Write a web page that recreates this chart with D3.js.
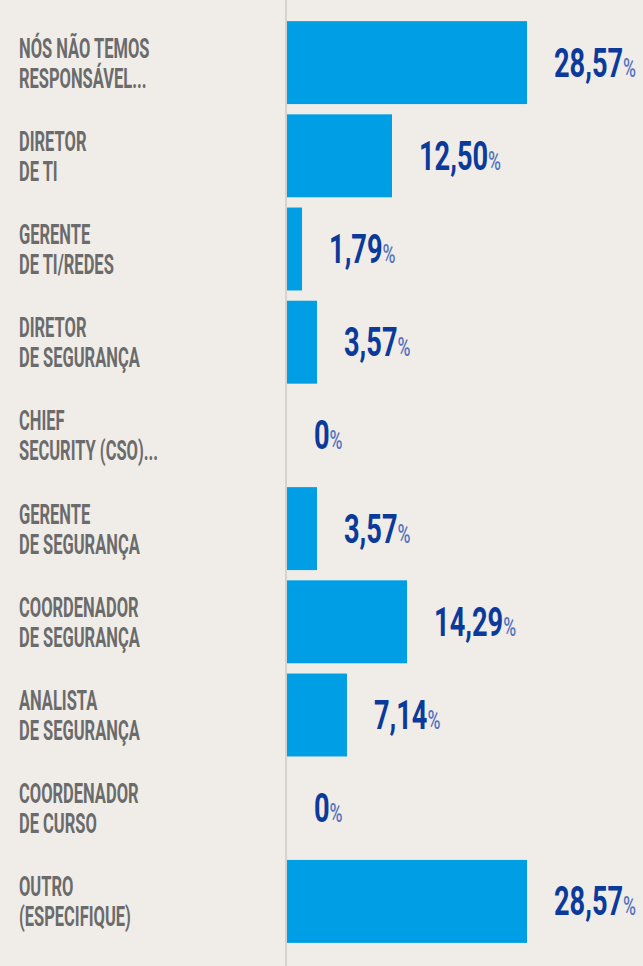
<!DOCTYPE html>
<html>
<head>
<meta charset="utf-8">
<script src="https://cdn.jsdelivr.net/npm/d3@7"></script>
<style>
  html, body { margin: 0; padding: 0; background: #f0ede9; }
  svg { display: block; }
</style>
</head>
<body>
<figure id="bar" style="margin:0"></figure>
<script>
// categories (line breaks marked with |)
const categories = [
  "NÓS NÃO TEMOS|RESPONSÁVEL...",
  "DIRETOR|DE TI",
  "GERENTE|DE TI/REDES",
  "DIRETOR|DE SEGURANÇA",
  "CHIEF|SECURITY (CSO)...",
  "GERENTE|DE SEGURANÇA",
  "COORDENADOR|DE SEGURANÇA",
  "ANALISTA|DE SEGURANÇA",
  "COORDENADOR|DE CURSO",
  "OUTRO|(ESPECIFIQUE)"
];
const values = [28.57, 12.50, 1.79, 3.57, 0, 3.57, 14.29, 7.14, 0, 28.57];
const valueLabels = ["28,57", "12,50", "1,79", "3,57", "0", "3,57", "14,29", "7,14", "0", "28,57"];

const width = 643, height = 966;
const axisX = 287;
const labelScale = 0.6, valueScale = 0.68;

const data = categories.map((c, i) => ({ cat: c, value: values[i], label: valueLabels[i] }));

const svg = d3.select("figure#bar")
  .append("svg")
  .attr("width", width)
  .attr("height", height);

svg.append("rect")
  .attr("width", width)
  .attr("height", height)
  .attr("fill", "#f0ede9");

// y band scale
const y = d3.scaleBand()
  .domain(categories)
  .range([16, 948])
  .paddingInner(0.11)
  .paddingOuter(0.055);

// x scale
const x = d3.scaleLinear()
  .domain([0, d3.max(values)])
  .range([axisX, axisX + 240]);

// bars
svg.selectAll("rect.bar")
  .data(data)
  .enter()
  .append("rect")
  .attr("class", "bar")
  .attr("x", x(0))
  .attr("y", d => y(d.cat))
  .attr("width", d => x(d.value) - x(0))
  .attr("height", y.bandwidth())
  .attr("fill", "#009fe5");

// axis line
svg.append("line")
  .attr("x1", axisX - 1).attr("x2", axisX - 1)
  .attr("y1", 0).attr("y2", height)
  .attr("stroke", "#d6d3cf")
  .attr("stroke-width", 2);

// category labels
const lab = svg.selectAll("text.cat")
  .data(data)
  .enter()
  .append("text")
  .attr("class", "cat")
  .attr("transform", d => `translate(19,${y(d.cat) + y.bandwidth() / 2 - 5}) scale(${labelScale},1)`)
  .attr("font-family", "Roboto, 'DejaVu Sans', sans-serif")
  .attr("font-weight", 700)
  .attr("font-size", 27.5)
  .attr("fill", "#6b6b6b");

lab.selectAll("tspan")
  .data(d => d.cat.split("|"))
  .enter()
  .append("tspan")
  .attr("x", 0)
  .attr("y", (d, i) => i * 30)
  .text(d => d);

// value labels
const val = svg.selectAll("text.val")
  .data(data)
  .enter()
  .append("text")
  .attr("class", "val")
  .attr("transform", d => `translate(${x(d.value) + 27},${y(d.cat) + y.bandwidth() / 2 + 14}) scale(${valueScale},1)`)
  .attr("font-family", "Roboto, 'DejaVu Sans', sans-serif")
  .attr("font-weight", 700)
  .attr("fill", "#0b3a9b");

val.append("tspan")
  .attr("font-size", 40)
  .text(d => d.label);

val.append("tspan")
  .attr("font-size", 26)
  .attr("font-weight", 500)
  .attr("fill", "#5674be")
  .text("%");
</script>
</body>
</html>
